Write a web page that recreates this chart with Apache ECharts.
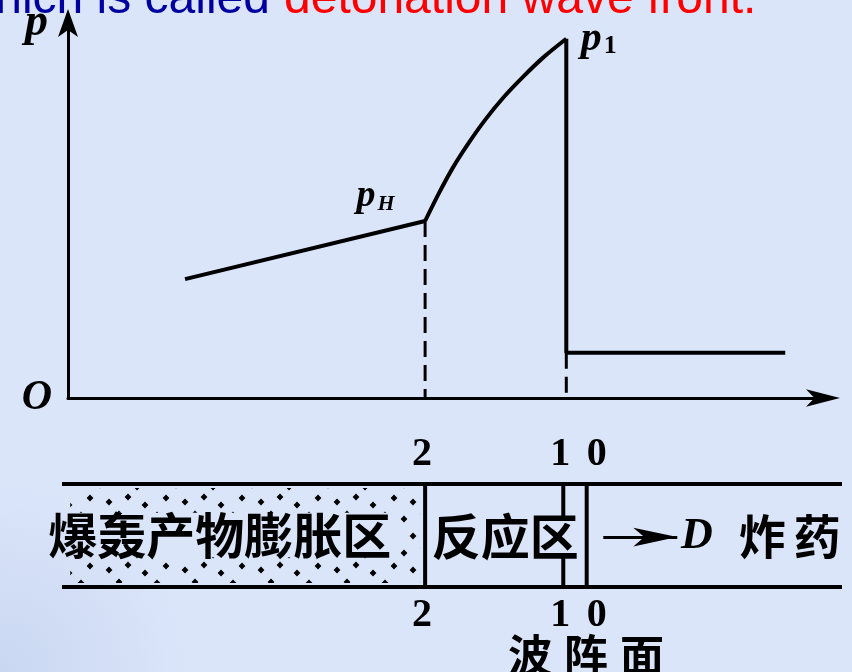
<!DOCTYPE html>
<html><head><meta charset="utf-8">
<script src="https://cdn.jsdelivr.net/npm/echarts@6/dist/echarts.min.js"></script>
<style>html,body{margin:0;padding:0;background:#dbe5fa;}#c{width:852px;height:672px;}</style>
</head><body><div id="c"></div>
<script>
// ---------- data (distance along charge, pressure) ----------
const productsLine = [[1.55, 3.17], [4.73, 4.72]];
const reactionCurve = [[4.73, 4.72], [4.91, 5.45], [5.10, 6.15], [5.31, 6.81], [5.53, 7.43], [5.77, 8.02], [6.03, 8.57], [6.30, 9.09], [6.60, 9.58]];
const frontAndExplosive = [[6.60, 9.58], [6.60, 1.21], [9.50, 1.21]];
const cjDrop = [[4.73, 4.72], [4.73, 0]];
const frontDrop = [[6.60, 1.21], [6.60, 0]];
const pointLabels = ['pH', 'p1'];
const pointPositions = [[4.73, 4.72], [6.60, 9.58]];
// ---------- tube schematic (grid 2: same x scale, y 0..1 across tube) ----------
const tubeStart = -0.0795, tubeEnd = 10.2517;
const sectionX = [4.73, 6.56, 6.87];          // planes 2, 1, 0
const sectionLabels = ['2', '1', '0'];
const zoneNames = ['爆轰产物膨胀区', '反应区', '炸药'];
const zoneX = [2.01, 5.79, 9.56];
const frontName = '波阵面';
const headline = ['which is called', 'detonation wave front.'];

const serif = '"Liberation Serif","DejaVu Serif",serif';
const cjk = '"Noto Sans CJK SC",sans-serif';

// dotted texture for the products zone
function dotPattern() {
  const c = document.createElement('canvas');
  c.width = 76; c.height = 34;
  const g = c.getContext('2d');
  g.fillStyle = '#000';
  const pts = [[5,5],[24,9],[43,4],[61,11],[14,22],[33,26],[52,21],[69,29]];
  pts.forEach(([x, y]) => { g.beginPath(); g.moveTo(x, y-3.4); g.lineTo(x+3.4, y); g.lineTo(x, y+3.4); g.lineTo(x-3.4, y); g.closePath(); g.fill(); });
  return { image: c, repeat: 'repeat' };
}
const dots = dotPattern();

const chart = echarts.init(document.getElementById('c'), null, { renderer: 'canvas' });
const black = { color: '#000', width: 4 };
const tubeLines = [
  [[tubeStart, 1], [tubeEnd, 1]],
  [[tubeStart, 0], [tubeEnd, 0]],
  [[sectionX[0], 0], [sectionX[0], 1]],
  [[sectionX[1], 1], [sectionX[1], 0.68]],
  [[sectionX[1], 0.29], [sectionX[1], 0]],
  [[sectionX[2], 0], [sectionX[2], 1]]
];
const dotAreas = [
  [[0.03, 0.96], [4.66, 0.72]],
  [[0.03, 0.29], [4.66, 0.04]],
  [[4.40, 0.72], [4.66, 0.29]]
];
const lab = (text, x, y, off, font, rich) => ({ value: [x, y], label: Object.assign({ formatter: text, offset: off, position: 'inside', color: '#000', opacity: 1, rich: rich || {} }, font) });
const num = { fontFamily: serif, fontWeight: 'bold', fontSize: 40 };
const zh = { fontFamily: cjk, fontWeight: 'bold', fontSize: 49 };
const spaced = s => s.split('').map(ch => '{a|' + ch + '}').join('{g|}');
const gapRich = (size, gap) => ({ a: { fontFamily: cjk, fontWeight: 'bold', fontSize: size, color: '#000' }, g: { width: gap } });
const markStyle = { color: 'rgba(0,0,0,0)', opacity: 1 };

const series = [
  { type: 'line', xAxisIndex: 0, yAxisIndex: 0, data: productsLine, symbol: 'none', lineStyle: black },
  { type: 'line', xAxisIndex: 0, yAxisIndex: 0, data: reactionCurve, symbol: 'none', smooth: 0.3, lineStyle: black },
  { type: 'line', xAxisIndex: 0, yAxisIndex: 0, data: frontAndExplosive, symbol: 'none', lineStyle: black },
  { type: 'line', xAxisIndex: 0, yAxisIndex: 0, data: cjDrop, symbol: 'none', lineStyle: { color: '#000', width: 3, type: [16, 8] } },
  { type: 'line', xAxisIndex: 0, yAxisIndex: 0, data: frontDrop, symbol: 'none', lineStyle: { color: '#000', width: 3, type: [16, 8] } },
  { type: 'scatter', xAxisIndex: 0, yAxisIndex: 0, symbolSize: 1, itemStyle: markStyle,
    data: [
      { value: pointPositions[0], label: { show: true, position: 'left', distance: 30, offset: [0, -25], opacity: 1,
          formatter: '{p|' + pointLabels[0][0] + '}{s|' + pointLabels[0][1] + '}',
          rich: { p: { fontFamily: serif, fontStyle: 'italic', fontWeight: 'bold', fontSize: 38, color: '#000', verticalAlign: 'bottom' },
                  s: { fontFamily: serif, fontStyle: 'italic', fontWeight: 'bold', fontSize: 22, color: '#000', verticalAlign: 'bottom', padding: [0, 0, 0, 2] } } } },
      { value: pointPositions[1], label: { show: true, position: 'right', distance: 14, offset: [0, 0], opacity: 1,
          formatter: '{p|' + pointLabels[1][0] + '}{s|' + pointLabels[1][1] + '}',
          rich: { p: { fontFamily: serif, fontStyle: 'italic', fontWeight: 'bold', fontSize: 42, color: '#000', verticalAlign: 'bottom' },
                  s: { fontFamily: serif, fontWeight: 'bold', fontSize: 26, color: '#000', verticalAlign: 'bottom', padding: [0, 0, 0, 2] } } } }
    ] }
];
// tube walls and section planes
tubeLines.forEach(l => series.push({ type: 'line', xAxisIndex: 1, yAxisIndex: 1, clip: false, data: l, symbol: 'none', lineStyle: black }));
// labels, arrow and dotted products zone
series.push({ type: 'scatter', xAxisIndex: 1, yAxisIndex: 1, clip: false, symbolSize: 1, itemStyle: markStyle,
  label: { show: true, color: '#000' },
  data: [
    lab(sectionLabels[0], sectionX[0], 1, [-3, -29], num),
    lab(sectionLabels[1], sectionX[1], 1, [-3, -29], num),
    lab(sectionLabels[2], sectionX[2], 1, [10, -29], num),
    lab(sectionLabels[0], sectionX[0], 0, [-3, 29], num),
    lab(sectionLabels[1], sectionX[1], 0, [-3, 29], num),
    lab(sectionLabels[2], sectionX[2], 0, [10, 29], num),
    lab(zoneNames[0], zoneX[0], 0.50, [0, 0], zh),
    lab(zoneNames[1], zoneX[1], 0.49, [0, 0], zh),
    lab(spaced(zoneNames[2]), zoneX[2], 0.49, [0, 0], zh, gapRich(47, 8)),
    lab('D', 8.33, 0.49, [0, 0], { fontFamily: serif, fontStyle: 'italic', fontWeight: 'bold', fontSize: 44 }),
    lab(spaced(frontName), (sectionX[1] + sectionX[2]) / 2, -0.66, [11, 0], {}, gapRich(44, 12))
  ],
  markLine: { silent: true, symbol: 'none', animation: false, label: { show: false },
    lineStyle: { color: '#000', width: 3, type: 'solid' },
    data: [[{ coord: [7.09, 0.485], symbol: 'none' }, { coord: [8.07, 0.485], symbol: 'arrow', symbolSize: [14, 44] }]] },
  markArea: { silent: true, itemStyle: { color: dots }, data: dotAreas.map(a => [{ coord: a[0] }, { coord: a[1] }]) }
});

chart.setOption({
  animation: false,
  backgroundColor: {
    type: 'radial', x: 0, y: 1, r: 0.28,
    colorStops: [{ offset: 0, color: '#c9d7f1' }, { offset: 1, color: '#dbe5fa' }]
  },
  graphic: [
    { type: 'text', x: 270, y: 0, style: { text: headline[0], fill: '#0000a0', font: '48px "Liberation Sans",Arial,sans-serif', align: 'right', verticalAlign: 'middle' } },
    { type: 'text', x: 284, y: 0, style: { text: headline[1], fill: '#ff0000', font: '48px "Liberation Sans",Arial,sans-serif', align: 'left', verticalAlign: 'middle' } }
  ],
  grid: [
    { left: 68, top: 19, width: 755, height: 379 },
    { left: 62, top: 484, width: 780, height: 103 }
  ],
  xAxis: [
    { gridIndex: 0, type: 'value', min: 0, max: 10,
      axisLine: { show: true, onZero: true, symbol: ['none', 'arrow'], symbolSize: [13, 34], symbolOffset: [0, 17], lineStyle: { color: '#000', width: 3 } },
      axisTick: { show: false }, axisLabel: { show: false }, splitLine: { show: false } },
    { gridIndex: 1, type: 'value', min: tubeStart, max: tubeEnd, show: false }
  ],
  yAxis: [
    { gridIndex: 0, type: 'value', min: 0, max: 10, interval: 10,
      name: 'p', nameLocation: 'end', nameGap: 0,
      nameTextStyle: { fontFamily: serif, fontStyle: 'italic', fontWeight: 'bold', fontSize: 46, color: '#000', align: 'right', verticalAlign: 'middle', padding: [0, 20, 30, 0] },
      axisLine: { show: true, symbol: ['none', 'arrow'], symbolSize: [15, 28], symbolOffset: [0, 14], lineStyle: { color: '#000', width: 3 } },
      axisTick: { show: false }, splitLine: { show: false },
      axisLabel: { show: true, margin: 16, formatter: v => (v === 0 ? 'O' : ''), fontFamily: serif, fontStyle: 'italic', fontWeight: 'bold', fontSize: 42, color: '#000', padding: [0, 0, 16, 0] } },
    { gridIndex: 1, type: 'value', min: 0, max: 1, show: false }
  ],
  series: series
});
</script></body></html>
